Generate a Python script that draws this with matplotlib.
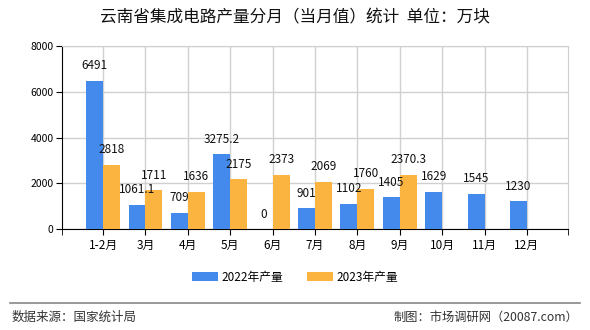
import matplotlib
matplotlib.use("Agg")
import matplotlib.pyplot as plt
import numpy as np

plt.rcParams['font.family'] = ['Noto Sans CJK SC', 'DejaVu Sans']

categories = ['1-2月', '3月', '4月', '5月', '6月', '7月', '8月', '9月', '10月', '11月', '12月']
output_2022 = [6491, 1061.1, 709, 3275.2, 0, 901, 1102, 1405, 1629, 1545, 1230]
output_2023 = [2818, 1711, 1636, 2175, 2373, 2069, 1760, 2370.3]
series_names = ['2022年产量', '2023年产量']
y_ticks = [0, 2000, 4000, 6000, 8000]

blue = '#438AEC'
orange = '#FBB440'

fig = plt.figure(figsize=(5.9, 3.3), dpi=100)
ax = fig.add_axes([62 / 590, 1 - 229 / 330, (568 - 62) / 590, (229 - 46) / 330])

x = np.arange(len(categories))
x23 = np.arange(len(output_2023))
w = 0.40

b1 = ax.bar(x - w / 2, output_2022, w, color=blue, label=series_names[0], zorder=3)
b2 = ax.bar(x23 + w / 2, output_2023, w, color=orange, label=series_names[1], zorder=3)


def fmt(v):
    return f'{v:g}'


for xi, v in zip(x - w / 2, output_2022):
    ax.annotate(fmt(v), (xi, v), xytext=(0, 6), textcoords='offset points',
                ha='center', va='bottom', fontsize=8.5, color='#111111', zorder=4)
for xi, v in zip(x23 + w / 2, output_2023):
    ax.annotate(fmt(v), (xi, v), xytext=(0, 6), textcoords='offset points',
                ha='center', va='bottom', fontsize=8.5, color='#111111', zorder=4)

ax.set_xlim(-0.97, 10.97)
ax.set_ylim(0, 8000)
ax.set_yticks(y_ticks)
ax.set_yticklabels([str(t) for t in y_ticks], fontsize=7.5)
ax.set_xticks(x)
ax.set_xticklabels(categories, fontsize=8.5)
ax.set_xticks([-0.97, 10.97], minor=True)
ax.tick_params(axis='x', which='both', length=4, direction='out', color='black', pad=3)
ax.tick_params(axis='y', length=4, direction='out', color='black', pad=2)

ax.grid(True, color='#d0d0d0', linewidth=1, zorder=0)
ax.set_axisbelow(True)
for s in ['top', 'right']:
    ax.spines[s].set_color('#d0d0d0')
ax.spines['left'].set_color('black')
ax.spines['bottom'].set_color('black')

fig.text(0.5, 1 - 18 / 330, '云南省集成电路产量分月（当月值）统计  单位：万块',
         ha='center', va='center', fontsize=12, color='#111111')

fig.legend(handles=[b1, b2], labels=series_names, loc='center',
           bbox_to_anchor=(0.5, 1 - 277 / 330), ncol=2, frameon=False,
           fontsize=8.5, handlelength=2.2, handleheight=0.8, columnspacing=2.0,
           handletextpad=0.3)

fig.add_artist(plt.Line2D([10 / 590, 580 / 590], [1 - 303 / 330, 1 - 303 / 330],
                          color='#888888', linewidth=1.2))
fig.text(12 / 590, 1 - 317 / 330, '数据来源：国家统计局', ha='left', va='center',
         fontsize=9, color='#333333')
fig.text(578 / 590, 1 - 317 / 330, '制图：市场调研网（20087.com）', ha='right', va='center',
         fontsize=8.8, color='#333333')

fig.savefig('out.png', dpi=100)
